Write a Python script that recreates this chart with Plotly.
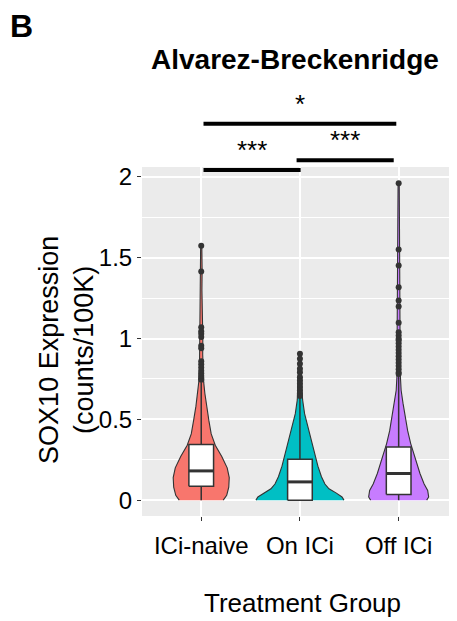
import plotly.graph_objects as go

# ---------------- data ----------------
groups = ["ICi-naive", "On ICi", "Off ICi"]
group_pos = [1, 2, 3]
colors = ["#F8766D", "#00BFC4", "#C77CFF"]

# violin outline: y levels and half-widths (x-axis units)
naive_y = [0.0, 0.03, 0.08, 0.14, 0.20, 0.27, 0.34, 0.41, 0.49, 0.58, 0.66, 0.73,
           0.80, 0.90, 1.00, 1.10, 1.20, 1.30, 1.42, 1.50, 1.574]
naive_w = [0.223, 0.258, 0.279, 0.284, 0.263, 0.208, 0.142, 0.101, 0.078, 0.054, 0.037, 0.025,
           0.018, 0.015, 0.016, 0.012, 0.008, 0.007, 0.009, 0.007, 0.006]
on_y = [0.0, 0.02, 0.045, 0.07, 0.10, 0.145, 0.21, 0.29, 0.37, 0.45, 0.535, 0.62, 0.70, 0.80, 0.905]
on_w = [0.446, 0.426, 0.365, 0.294, 0.253, 0.218, 0.182, 0.147, 0.117, 0.081, 0.047, 0.027,
        0.018, 0.015, 0.012]
off_y = [0.0, 0.02, 0.06, 0.10, 0.165, 0.267, 0.35, 0.43, 0.51, 0.60, 0.68, 0.76, 0.90, 1.05,
         1.25, 1.45, 1.65, 1.85, 1.963]
off_w = [0.284, 0.304, 0.294, 0.258, 0.216, 0.162, 0.122, 0.091, 0.066, 0.044, 0.025, 0.018,
         0.015, 0.013, 0.011, 0.010, 0.008, 0.007, 0.006]

# box statistics
q1 = [0.086, 0.0, 0.035]
median = [0.181, 0.113, 0.165]
q3 = [0.344, 0.253, 0.329]
lower = [0.0, 0.0, 0.0]
upper = [0.73, 0.633, 0.77]

# outliers
naive_out = [1.574, 1.415, 1.07, 1.045, 1.03, 1.01, 0.955, 0.94, 0.86, 0.84, 0.82, 0.80,
             0.785, 0.77, 0.755, 0.745]
on_out = [0.905, 0.875, 0.844, 0.813, 0.792, 0.761, 0.741, 0.72, 0.70, 0.68, 0.66, 0.645]
off_out = [1.961, 1.551, 1.451, 1.317, 1.235, 1.198, 1.097, 1.039, 1.019, 0.998, 0.99, 0.97,
           0.95, 0.93, 0.91, 0.89, 0.87, 0.85, 0.83, 0.81, 0.79, 0.78]

# significance comparisons: (x start, x end, bar height, label)
sig_x0 = [1.023, 1.966, 1.023]
sig_x1 = [2.007, 2.950, 2.976]
sig_y = [2.043, 2.103, 2.329]
sig_lab = ["***", "***", "*"]

y_ticks = [0, 0.5, 1, 1.5, 2]
y_ticktext = ["0", "0.5", "1", "1.5", "2"]
y_minor = [0.25, 0.75, 1.25, 1.75]

# ---------------- figure ----------------
FONT = "Liberation Sans, Arial, sans-serif"
OUT = "#333333"
XR = [0.4, 3.591]
YR = [-0.098, 2.061]
BOX_HALF = 0.125

fig = go.Figure()

profiles = [(naive_y, naive_w), (on_y, on_w), (off_y, off_w)]
outs = [naive_out, on_out, off_out]
for i, (ys, ws) in enumerate(profiles):
    c = group_pos[i]
    xs = [c + w for w in ws] + [c - w for w in ws[::-1]]
    yy = list(ys) + list(ys[::-1])
    fig.add_trace(go.Scatter(x=xs, y=yy, fill="toself", fillcolor=colors[i], mode="lines",
                             line=dict(color=OUT, width=1.1), hoverinfo="skip", showlegend=False))

for i in range(3):
    c = group_pos[i]
    # whiskers
    fig.add_trace(go.Scatter(x=[c, c, None, c, c], y=[q3[i], upper[i], None, q1[i], lower[i]],
                             mode="lines", line=dict(color=OUT, width=1.5),
                             hoverinfo="skip", showlegend=False))
    # box body
    fig.add_trace(go.Scatter(x=[c - BOX_HALF, c + BOX_HALF, c + BOX_HALF, c - BOX_HALF, c - BOX_HALF],
                             y=[q1[i], q1[i], q3[i], q3[i], q1[i]],
                             fill="toself", fillcolor="white", mode="lines",
                             line=dict(color=OUT, width=1.5), hoverinfo="skip", showlegend=False))
    # median
    fig.add_trace(go.Scatter(x=[c - BOX_HALF, c + BOX_HALF], y=[median[i], median[i]],
                             mode="lines", line=dict(color=OUT, width=3), showlegend=False))
    # outliers
    fig.add_trace(go.Scatter(x=[c] * len(outs[i]), y=outs[i], mode="markers",
                             marker=dict(color=OUT, size=6), showlegend=False))

def px(xv):
    return (xv - XR[0]) / (XR[1] - XR[0])

def py(yv):
    return (yv - YR[0]) / (YR[1] - YR[0])

for x0, x1, yv, lab in zip(sig_x0, sig_x1, sig_y, sig_lab):
    fig.add_shape(type="line", xref="paper", yref="paper", x0=px(x0), x1=px(x1),
                  y0=py(yv), y1=py(yv), line=dict(color="black", width=4))
    fig.add_annotation(xref="paper", yref="paper", x=px((x0 + x1) / 2), y=py(yv),
                       yshift=3, text=lab, showarrow=False, yanchor="bottom",
                       font=dict(family=FONT, size=26, color="black"))

fig.add_annotation(xref="paper", yref="paper", x=0.486, y=1.309, text="<b>Alvarez-Breckenridge</b>",
                   showarrow=False, xanchor="center", yanchor="middle",
                   font=dict(family=FONT, size=28, color="black"))
fig.add_annotation(xref="paper", yref="paper", x=-0.381, y=1.405, text="<b>B</b>",
                   showarrow=False, xanchor="center", yanchor="middle",
                   font=dict(family=FONT, size=32, color="black"))
fig.add_annotation(xref="paper", yref="paper", x=0.508, y=-0.249, text="Treatment Group",
                   showarrow=False, xanchor="center", yanchor="middle",
                   font=dict(family=FONT, size=26, color="black"))
fig.add_annotation(xref="paper", yref="paper", x=-0.238, y=0.476,
                   text="SOX10 Expression<br>(counts/100K)", textangle=-90,
                   showarrow=False, xanchor="center", yanchor="middle",
                   font=dict(family=FONT, size=27, color="black"))

# the page body adds an 8px margin, so the figure is 8px smaller on each axis
fig.update_layout(
    width=449, height=613,
    margin=dict(l=134, r=0, t=159, b=105),
    paper_bgcolor="white", plot_bgcolor="#EBEBEB",
    showlegend=False,
    font=dict(family=FONT, color="black"),
    xaxis=dict(range=XR, tickmode="array", tickvals=group_pos, ticktext=groups,
               ticks="outside", ticklen=4, tickcolor=OUT, tickwidth=1, ticklabelstandoff=4,
               showgrid=True, gridcolor="white", gridwidth=2, zeroline=False, showline=False,
               tickfont=dict(family=FONT, size=24, color="black")),
    yaxis=dict(range=YR, tickmode="array", tickvals=y_ticks, ticktext=y_ticktext,
               ticks="outside", ticklen=4, tickcolor=OUT, tickwidth=1,
               showgrid=True, gridcolor="white", gridwidth=2, zeroline=False, showline=False,
               minor=dict(tickmode="array", tickvals=y_minor, showgrid=True,
                          gridcolor="white", gridwidth=1, ticks=""),
               tickfont=dict(family=FONT, size=24, color="black")),
)

fig.write_html("out.html")
